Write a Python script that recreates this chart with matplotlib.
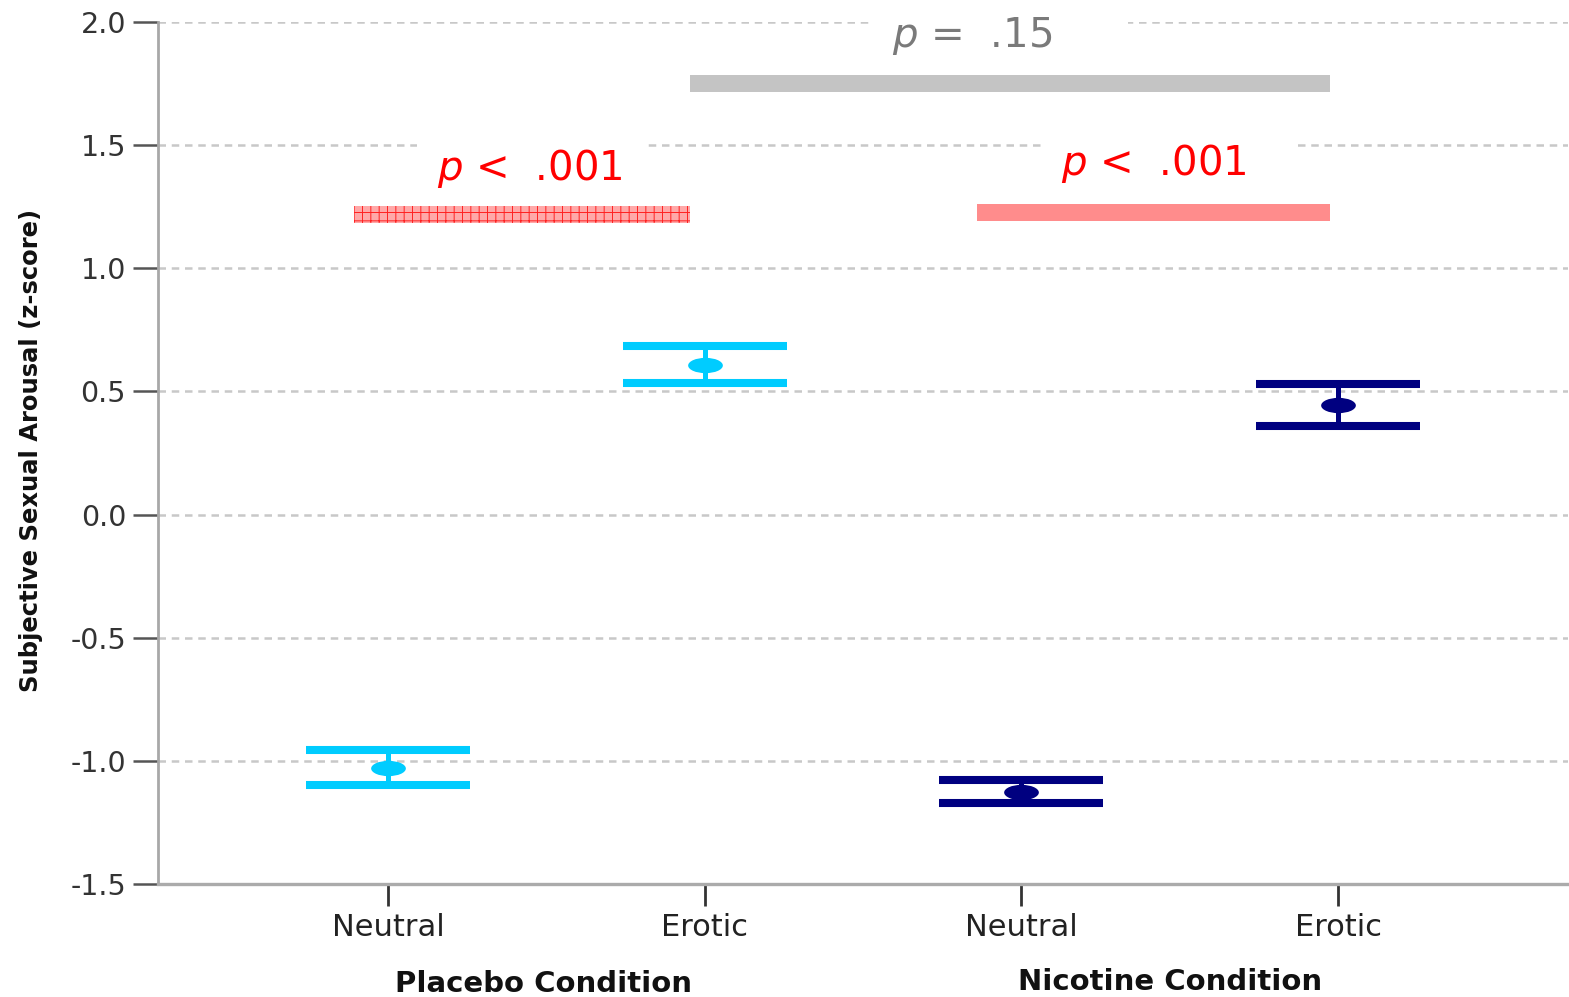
import numpy as np
import matplotlib
matplotlib.use('Agg')
import matplotlib.pyplot as plt
from matplotlib.path import Path
from matplotlib.transforms import blended_transform_factory

plt.rcParams['font.family'] = ['DejaVu Sans']
plt.rcParams['hatch.linewidth'] = 0.7

# Cell means and error bar ends (z-score)
groups = ['Placebo Condition', 'Nicotine Condition']
stimuli = ['Neutral', 'Erotic', 'Neutral', 'Erotic']
means = [-1.030, 0.607, -1.126, 0.445]
upper = [-0.956, 0.685, -1.078, 0.530]
lower = [-1.098, 0.534, -1.171, 0.360]
colors = ['#00ccff', '#00ccff', '#000080', '#000080']

# Significance brackets
sig_start = [0.893, 2.861, 1.953]
sig_end = [1.953, 3.975, 3.975]
sig_y = [1.218, 1.226, 1.750]
sig_labels = ['$p$ <  .001', '$p$ <  .001\u2007\u2007', '$p$ =  .15\u2007\u2007\u2007']
sig_label_x = [1.155, 3.126, 2.593]
sig_label_y = [1.407, 1.427, 1.943]

yticks = [2.0, 1.5, 1.0, 0.5, 0.0, -0.5, -1.0, -1.5]

fig = plt.figure(figsize=(15.69, 9.97), dpi=100)
ax = fig.add_axes([158/1569, 113/997, 1410/1569, 862/997])

x = np.arange(1, len(means) + 1)
means = np.array(means)
yerr = [means - np.array(lower), np.array(upper) - means]

# ellipse-shaped marker
circ = Path.unit_circle()
ellipse = Path(circ.vertices * np.array([1.0, 0.44]), circ.codes)

for i in range(len(means)):
    ax.errorbar(x[i], means[i], yerr=[[yerr[0][i]], [yerr[1][i]]],
                fmt='none', ecolor=colors[i], elinewidth=3.6,
                capsize=59, capthick=5.8, zorder=4)
    ax.plot(x[i], means[i], marker=ellipse, markersize=25, color=colors[i],
            markeredgewidth=0, zorder=5)

# significance bars
bar_h = 0.069
ax.barh(sig_y[0], sig_end[0] - sig_start[0], left=sig_start[0], height=bar_h,
        color='#ffa8a8', edgecolor='#ff2020', hatch='++', linewidth=0, zorder=3)
ax.barh(sig_y[1], sig_end[1] - sig_start[1], left=sig_start[1], height=bar_h,
        color='#ff8c8c', linewidth=0, zorder=3)
ax.barh(sig_y[2], sig_end[2] - sig_start[2], left=sig_start[2], height=bar_h,
        color='#c4c4c4', linewidth=0, zorder=3)

label_colors = ['#ff0000', '#ff0000', '#7a7a7a']
for i in range(3):
    ax.text(sig_label_x[i], sig_label_y[i], sig_labels[i], fontsize=29,
            color=label_colors[i], ha='left', va='center', zorder=2,
            bbox=dict(boxstyle='square,pad=0.5', facecolor='white',
                      edgecolor='none'))

ax.set_xlim(0.274, 4.726)
ax.set_ylim(-1.5, 2.0)
ax.set_yticks(yticks)
ax.set_yticklabels(['%.1f' % v for v in yticks])
ax.set_xticks(x)
ax.set_xticklabels(stimuli)

ax.grid(axis='y', color='#c8c8c8', linewidth=1.8, linestyle=(0, (3, 2.3)), zorder=0)
ax.set_axisbelow(True)

for s in ['top', 'right']:
    ax.spines[s].set_visible(False)
ax.spines['left'].set_color('#a8a8a8')
ax.spines['left'].set_linewidth(2.0)
ax.spines['bottom'].set_color('#ababab')
ax.spines['bottom'].set_linewidth(2.4)

ax.tick_params(axis='y', length=18, width=1.8, color='#555555', labelsize=20.5,
               labelcolor='#333333', pad=5)
ax.tick_params(axis='x', length=16, width=2.0, color='#333333', labelsize=22,
               labelcolor='#222222', pad=5)

# group labels below the stimulus ticks
trans = blended_transform_factory(ax.transData, ax.transAxes)
ax.text((x[0] + x[1]) / 2 - 0.01, -0.1253, groups[0], transform=trans, fontsize=21,
        fontweight='bold', ha='center', va='baseline', color='#111111')
ax.text((x[2] + x[3]) / 2 - 0.03, -0.1230, groups[1], transform=trans, fontsize=21,
        fontweight='bold', ha='center', va='baseline', color='#111111')

fig.text(31/1569, 1 - 450/997, 'Subjective Sexual Arousal (z-score)', rotation=90,
         fontsize=17.5, fontweight='bold', ha='center', va='center', color='#111111')

fig.savefig('out.png', dpi=100, facecolor='white')
